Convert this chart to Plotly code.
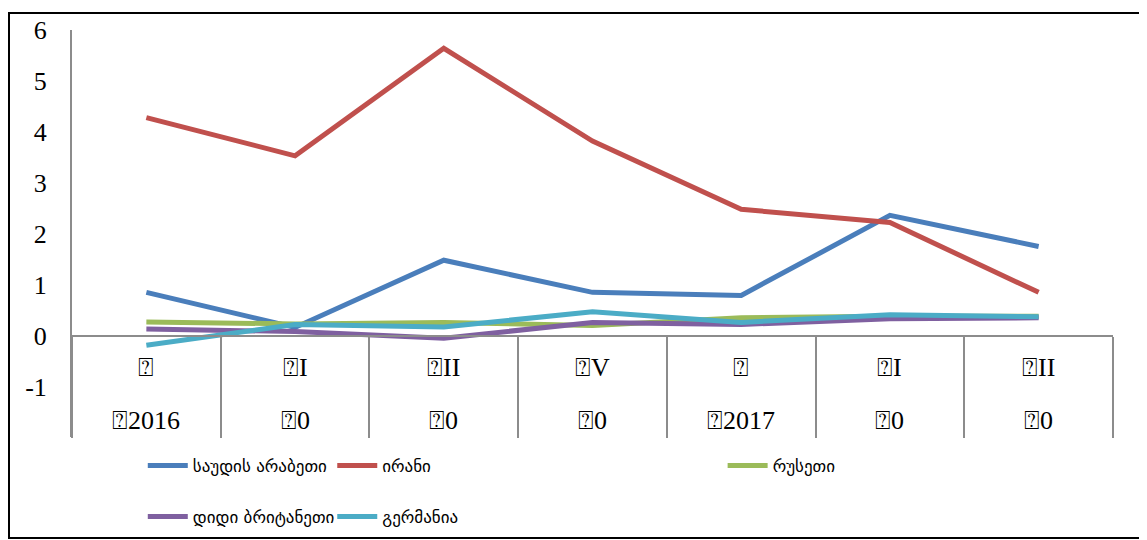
import plotly.graph_objects as go

categories = ["c1", "c2", "c3", "c4", "c5", "c6", "c7"]
row1_labels = ["⍰", "⍰I", "⍰II", "⍰V", "⍰", "⍰I", "⍰II"]
row2_labels = ["⍰2016", "⍰0", "⍰0", "⍰0", "⍰2017", "⍰0", "⍰0"]

saudi = [0.85, 0.16, 1.48, 0.85, 0.79, 2.36, 1.75]
iran = [4.28, 3.53, 5.64, 3.82, 2.48, 2.22, 0.85]
russia = [0.27, 0.23, 0.26, 0.20, 0.35, 0.38, 0.38]
uk = [0.13, 0.08, -0.05, 0.26, 0.22, 0.33, 0.35]
germany = [-0.19, 0.22, 0.17, 0.47, 0.26, 0.41, 0.37]

series_names = ["საუდის არაბეთი", "ირანი", "რუსეთი", "დიდი ბრიტანეთი", "გერმანია"]
series_values = [saudi, iran, russia, uk, germany]
series_colors = ["#4A7EBB", "#C0504D", "#9BBB59", "#7F60A0", "#4BACC6"]
series_legend = ["legend", "legend2", "legend3", "legend4", "legend5"]

y_ticks = [-1, 0, 1, 2, 3, 4, 5, 6]

Y_MIN, Y_MAX = -1.99, 6.0

# figure pixel geometry (page offset of the div is ~8px)
W, H = 1139, 532
L, T, B = 64, 22, 0
PW = 1041
R = W - L - PW
PAPER_H = H - T - B
AX_TOP, AX_BOT = 22, 429          # y-axis extent in figure pixels


def py(fig_y):
    """figure pixel y -> paper fraction"""
    return (H - B - fig_y) / PAPER_H


px_per_unit = (AX_BOT - AX_TOP) / (Y_MAX - Y_MIN)
zero_fig = AX_BOT + Y_MIN * px_per_unit

fig = go.Figure()
for name, vals, col, lg in zip(series_names, series_values, series_colors, series_legend):
    fig.add_trace(go.Scatter(
        x=categories, y=vals, name=name, mode="lines",
        line=dict(color=col, width=5),
        legend=lg,
    ))

label_font = dict(family="Liberation Serif, DejaVu Serif, serif", size=26, color="#000000")
for c, r1, r2 in zip(categories, row1_labels, row2_labels):
    fig.add_annotation(x=c, y=-0.63, xref="x", yref="y", text=r1, showarrow=False,
                       font=label_font, xanchor="center", yanchor="middle")
    fig.add_annotation(x=c, y=-1.66, xref="x", yref="y", text=r2, showarrow=False,
                       font=label_font, xanchor="center", yanchor="middle")

legend_common = dict(
    orientation="v", yanchor="top", xanchor="left",
    font=dict(family="DejaVu Sans, sans-serif", size=17, color="#000000"),
    bgcolor="rgba(0,0,0,0)", itemwidth=40,
)
ROW1, ROW2 = py(AX_BOT + 11), py(AX_BOT + 62)
fig.update_layout(
    width=W, height=H,
    margin=dict(l=L, r=R, t=T, b=B),
    paper_bgcolor="white", plot_bgcolor="white",
    showlegend=True,
    legend=dict(x=0.068, y=ROW1, **legend_common),
    legend2=dict(x=0.250, y=ROW1, **legend_common),
    legend3=dict(x=0.625, y=ROW1, **legend_common),
    legend4=dict(x=0.068, y=ROW2, **legend_common),
    legend5=dict(x=0.250, y=ROW2, **legend_common),
    xaxis=dict(
        type="category", range=[-0.5, len(categories) - 0.5],
        anchor="free", position=py(zero_fig),
        showline=True, linecolor="#8C8C8C", linewidth=2,
        ticks="outside", tickson="boundaries", ticklen=int(round(AX_BOT - zero_fig)),
        tickcolor="#8C8C8C", tickwidth=2,
        showticklabels=False, showgrid=False, zeroline=False,
    ),
    yaxis=dict(
        domain=[py(AX_BOT), py(AX_TOP)],
        range=[Y_MIN, Y_MAX], tickvals=y_ticks,
        ticktext=[str(v) for v in y_ticks],
        showline=True, linecolor="#8C8C8C", linewidth=2,
        showgrid=False, zeroline=False, ticks="",
        ticklabelstandoff=18,
        tickfont=dict(family="Liberation Serif, DejaVu Serif, serif", size=26, color="#000000"),
    ),
)

# outer chart border
fig.add_shape(type="rect", xref="paper", yref="paper",
              x0=(1 - L) / PW, x1=(1135 - L) / PW,
              y0=py(530), y1=py(5),
              line=dict(color="black", width=2), layer="below")

fig.write_html("out.html")
